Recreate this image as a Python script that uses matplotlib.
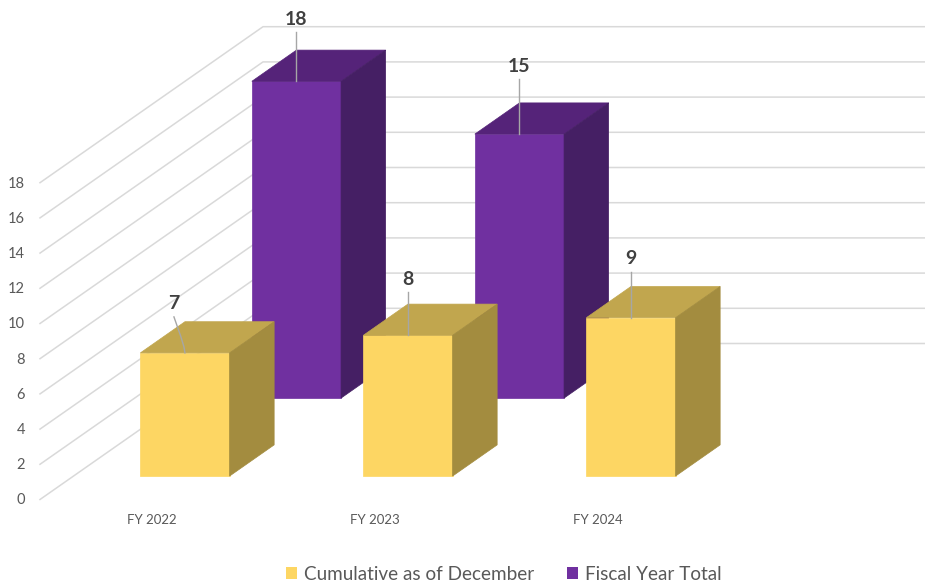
import matplotlib
matplotlib.use("Agg")
import matplotlib.pyplot as plt
from matplotlib.patches import Polygon, Patch

categories = ["FY 2022", "FY 2023", "FY 2024"]
cumulative = [7, 8, 9]
fiscal_total = [18, 15, None]
yticks = [0, 2, 4, 6, 8, 10, 12, 14, 16, 18]

# leader line lengths in pixels, they differ per label in the original
cumulative_leader = [36, 43, 46]
fiscal_leader = [49, 55, None]

# colours: front, top, side
yellow = ("#FDD663", "#C1A64E", "#A38C3F")
purple = ("#7030A0", "#552379", "#451F64")
grid_col = "#D9D9D9"
text_col = "#595959"

# fake 3d projection, worked out in image pixels
X0, Y0 = 40, 499.5
X_UNIT = 223   # one category
Y_UNIT = 17.6  # one value unit
DX, DY = 223, -156  # whole depth of the floor


def project(cat, val, depth):
    return X0 + X_UNIT * cat + DX * depth, Y0 - Y_UNIT * val + DY * depth


def box(ax, i, val, depth, colors):
    c0, c1 = i + 0.3, i + 0.7
    d0, d1 = depth, depth + 0.2
    front = [project(c0, 0, d0), project(c1, 0, d0), project(c1, val, d0), project(c0, val, d0)]
    top = [project(c0, val, d0), project(c1, val, d0), project(c1, val, d1), project(c0, val, d1)]
    side = [project(c1, 0, d0), project(c1, 0, d1), project(c1, val, d1), project(c1, val, d0)]
    ax.add_patch(Polygon(front, fc=colors[0], ec=colors[0], lw=0.5, zorder=2))
    ax.add_patch(Polygon(top, fc=colors[1], ec=colors[1], lw=0.5, zorder=2))
    ax.add_patch(Polygon(side, fc=colors[2], ec=colors[2], lw=0.5, zorder=2))


def value_label(ax, i, val, depth, leader, bend=False):
    x, y = project(i + 0.5, val, depth)
    if bend:
        xs = [x - 11, x - 4, x - 1, x]
        ys = [y - leader, y - 16, y - 6, y]
        tx, ty = x - 11, y - leader - 13
    else:
        xs = [x, x]
        ys = [y - leader, y]
        tx, ty = x, y - leader - 13
    ax.plot(xs, ys, color="#A6A6A6", lw=1, zorder=3)
    ax.text(tx, ty, str(val), ha="center", va="center", fontsize=14, fontweight="bold", color="#404040", zorder=4)


fig = plt.figure(figsize=(9.25, 5.88), dpi=100)
ax = fig.add_axes([0, 0, 1, 1])
ax.set_xlim(0, 925)
ax.set_ylim(588, 0)
ax.axis("off")
plt.rcParams["font.family"] = ["Lato", "DejaVu Sans"]

n = len(categories)
for v in yticks:
    a = project(0, v, 0)
    b = project(0, v, 1)
    c = project(n, v, 1)
    ax.plot([a[0], b[0], c[0]], [a[1], b[1], c[1]], color=grid_col, lw=1.1, zorder=1)
    ax.text(a[0] - 15, a[1] + 1, str(v), ha="right", va="center", fontsize=10.5, color=text_col)

for i, name in enumerate(categories):
    x, y = project(i + 0.5, 0, 0)
    ax.text(x, y + 20, name, ha="center", va="center", fontsize=9.5, color=text_col)

# back row first so the yellow boxes sit in front
for i, v in enumerate(fiscal_total):
    if v is not None:
        box(ax, i, v, 0.65, purple)
for i, v in enumerate(cumulative):
    box(ax, i, v, 0.15, yellow)

for i, v in enumerate(fiscal_total):
    if v is not None:
        value_label(ax, i, v, 0.65, fiscal_leader[i])
for i, v in enumerate(cumulative):
    value_label(ax, i, v, 0.15, cumulative_leader[i], bend=(i == 0))

handles = [Patch(fc=yellow[0], label="Cumulative as of December"), Patch(fc=purple[0], label="Fiscal Year Total")]
ax.legend(handles=handles, ncol=2, frameon=False, loc="center", bbox_to_anchor=(0.5445, 0.0235),
          fontsize=13.6, labelcolor=text_col, handlelength=0.6, handleheight=0.6,
          handletextpad=0.35, columnspacing=1.75)

fig.savefig("out.png", dpi=100)
